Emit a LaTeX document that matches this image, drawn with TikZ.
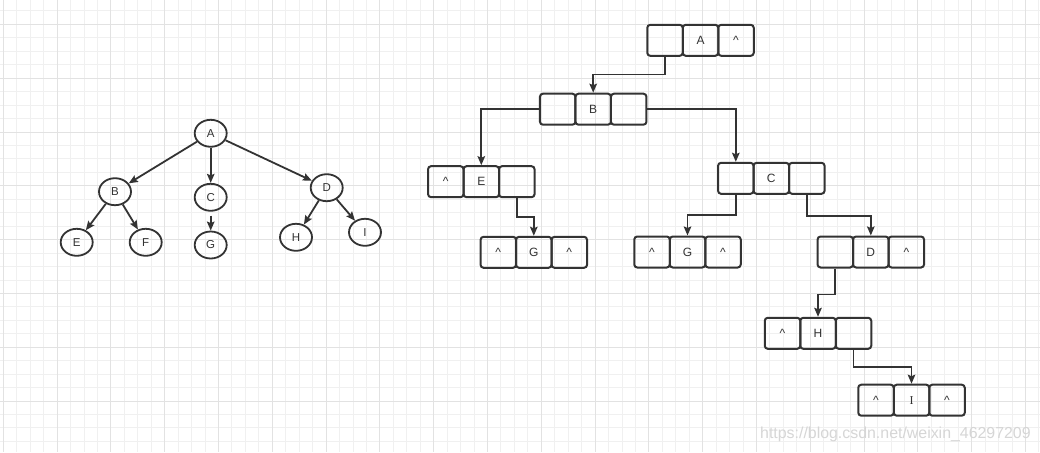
\documentclass[tikz,border=0pt]{standalone}
\usepackage{fontspec}
\setmainfont{Liberation Sans}
\usetikzlibrary{arrows.meta,shapes.geometric,calc}
\definecolor{ink}{HTML}{333333}
\definecolor{gridminor}{HTML}{F0F0F0}
\definecolor{gridmajor}{HTML}{E2E2E2}
\definecolor{wm}{HTML}{D6D6D6}
\tikzset{
  treenode/.style={ellipse,draw=ink,line width=1.8pt,minimum width=32pt,minimum height=27pt,inner sep=0pt,font=\fontsize{11.5}{12}\selectfont,text=ink},
  arr/.style={draw=ink,line width=1.8pt,-{Stealth[length=9pt,width=7.5pt,inset=1.5pt]}},
  cell/.style={draw=ink,line width=2pt,rounded corners=3pt,minimum width=35.5pt,minimum height=31pt,inner sep=0pt,font=\fontsize{12}{13}\selectfont,text=ink},
  wmark/.style={font=\fontsize{15.9}{16}\selectfont,text=wm,anchor=west,inner sep=0pt}
}
\begin{document}
\begin{tikzpicture}[x=1pt,y=-1pt]
\useasboundingbox (0,0) rectangle (1040,452);
\fill[white] (0,0) rectangle (1040,452);
% grid
\foreach \i in {0,...,77} {
  \draw[gridminor,line width=1pt] (3.3+13.45*\i,0) -- (3.3+13.45*\i,452);
}
\foreach \i in {0,...,33} {
  \draw[gridminor,line width=1pt] (0,11+13.45*\i) -- (1040,11+13.45*\i);
}
\foreach \i in {0,...,19} {
  \draw[gridmajor,line width=1pt] (3.3+53.8*\i,0) -- (3.3+53.8*\i,452);
}
\foreach \i in {0,...,8} {
  \draw[gridmajor,line width=1pt] (0,24.45+53.8*\i) -- (1040,24.45+53.8*\i);
}
% left tree
\node[treenode] (tA) at (210.7,133.3) {A};
\node[treenode] (tB) at (115,191.7) {B};
\node[treenode] (tC) at (210.7,197.3) {C};
\node[treenode] (tD) at (326.7,187.7) {D};
\node[treenode] (tE) at (76.7,242.3) {E};
\node[treenode] (tF) at (145.7,242.3) {F};
\node[treenode] (tG) at (210.7,245) {G};
\node[treenode] (tH) at (296,237.3) {H};
\node[treenode] (tI) at (365,232.3) {I};
\draw[arr] (tA) -- (tB);
\draw[arr] (tA) -- (tC);
\draw[arr] (tA) -- (tD);
\draw[arr] (tB) -- (tE);
\draw[arr] (tB) -- (tF);
\draw[arr,shorten <=4pt] (tC) -- (tG);
\draw[arr] (tD) -- (tH);
\draw[arr] (tD) -- (tI);
% right structure
\node[cell] (Al) at (665,40.3) {};
\node[cell] (Am) at (700.5,40.3) {A};
\node[cell] (Ar) at (736,40.3) {\textasciicircum};
\node[cell] (Bl) at (557.7,109.2) {};
\node[cell] (Bm) at (593.2,109.2) {B};
\node[cell] (Br) at (628.7,109.2) {};
\node[cell] (El) at (445.8,181.7) {\textasciicircum};
\node[cell] (Em) at (481.3,181.7) {E};
\node[cell] (Er) at (516.8,181.7) {};
\node[cell] (Cl) at (735.8,178.3) {};
\node[cell] (Cm) at (771.3,178.3) {C};
\node[cell] (Cr) at (806.8,178.3) {};
\node[cell] (Gal) at (498.3,252.3) {\textasciicircum};
\node[cell] (Gam) at (533.8,252.3) {G};
\node[cell] (Gar) at (569.3,252.3) {\textasciicircum};
\node[cell] (Gbl) at (652,252) {\textasciicircum};
\node[cell] (Gbm) at (687.5,252) {G};
\node[cell] (Gbr) at (723,252) {\textasciicircum};
\node[cell] (Dl) at (835.3,252) {};
\node[cell] (Dm) at (870.8,252) {D};
\node[cell] (Dr) at (906.3,252) {\textasciicircum};
\node[cell] (Hl) at (782.5,333.3) {\textasciicircum};
\node[cell] (Hm) at (818,333.3) {H};
\node[cell] (Hr) at (853.5,333.3) {};
\node[cell] (Il) at (876,400.2) {\textasciicircum};
\node[cell] (Im) at (911.5,400.2) {\fontspec{Liberation Serif}I};
\node[cell] (Ir) at (947,400.2) {\textasciicircum};
\draw[arr] (Al.south) -- ++(0,17.7) -| (Bm.north);
\draw[arr] (Bl.west) -| (Em.north);
\draw[arr] (Br.east) -| (Cl.north);
\draw[arr] (Er.south) -- ++(0,18.4) -| (Gam.north);
\draw[arr] (Cl.south) -- ++(0,20) -| (Gbm.north);
\draw[arr] (Cr.south) -- ++(0,21.3) -| (Dm.north);
\draw[arr] (Dl.south) -- ++(0,26) -| (Hm.north);
\draw[arr] (Hr.south) -- ++(0,17.4) -| (Im.north);
% watermark
\node[wmark] (wm) at (760,434) {https://blog.csdn.net/weixin\_46297209};
\end{tikzpicture}
\end{document}
